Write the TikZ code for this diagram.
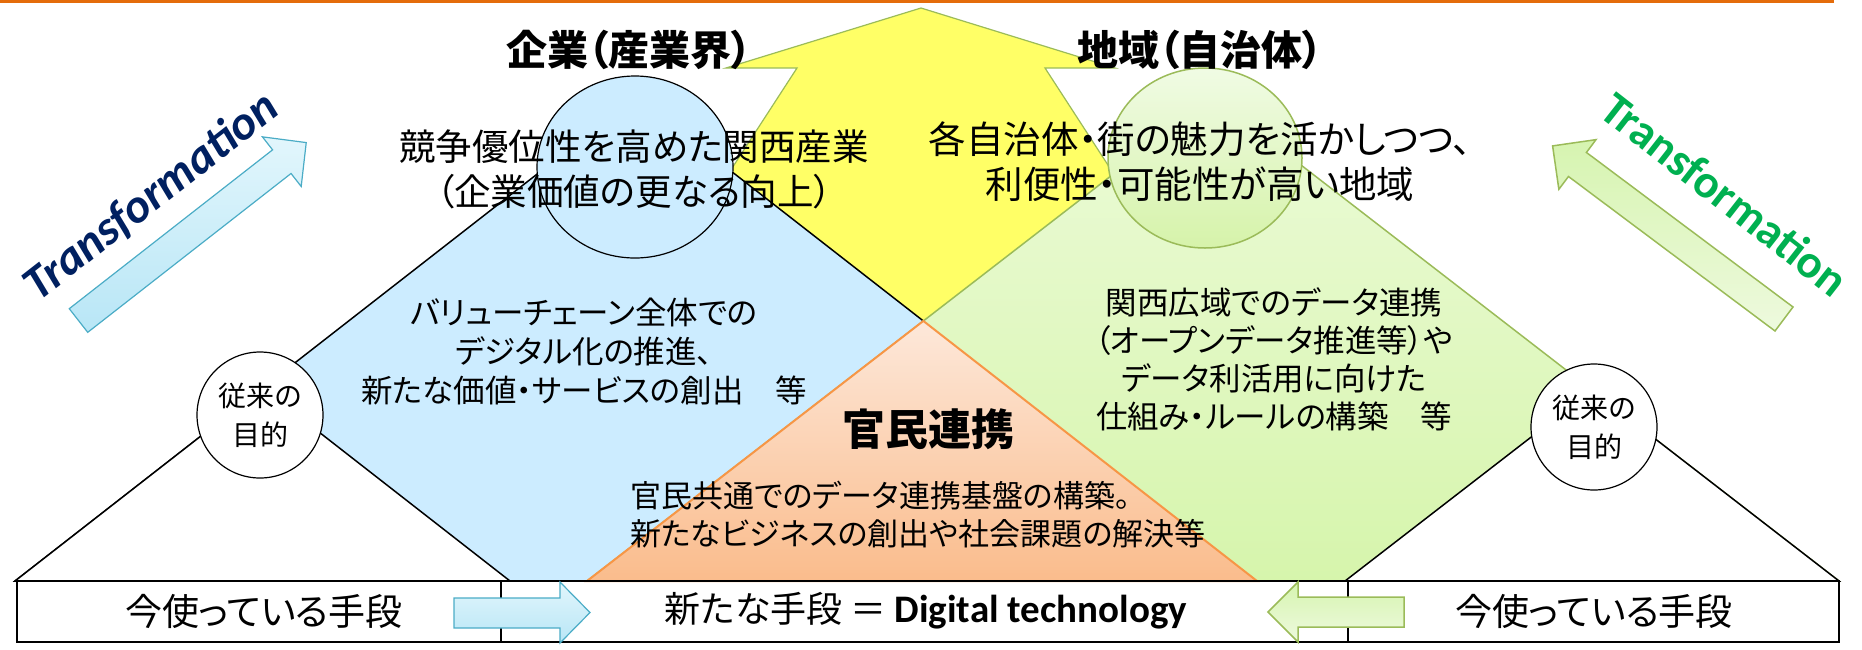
\documentclass[tikz,border=0pt]{standalone}
\usepackage{fontspec}
\setmainfont{Noto Sans CJK JP}[RawFeature=+palt]
\newfontfamily\calfont{Carlito}
\usetikzlibrary{calc,intersections,shapes.geometric}
\definecolor{bluefill}{HTML}{CCECFF}
\definecolor{yellowfill}{HTML}{FFFF66}
\definecolor{greenedge}{HTML}{9BBB59}
\definecolor{orangeedge}{HTML}{F79646}
\definecolor{topline}{HTML}{E46C0A}
\definecolor{navytext}{HTML}{002060}
\definecolor{greentext}{HTML}{00B050}
\definecolor{cyanedge}{HTML}{4BACC6}
\begin{document}
\begin{tikzpicture}[x=1pt,y=-1pt,line join=miter,
  jp/.style={inner sep=0pt,align=center},
  bluetri/.style={fill=bluefill,draw=black,line width=1.5pt},
  greentri/.style={top color={rgb,255:red,236;green,251;blue,216}, bottom color={rgb,255:red,214;green,245;blue,172},draw=greenedge,line width=1.5pt},
  orangetri/.style={top color={rgb,255:red,253;green,232;blue,218},bottom color={rgb,255:red,250;green,188;blue,140},draw=orangeedge,line width=2pt},
  whitetri/.style={fill=white,draw=black,line width=1.5pt},
  smallcirc/.style={circle,draw=black,fill=white,line width=1.2pt,minimum size=126pt,inner sep=0pt,align=center,font=\fontsize{28}{39}\selectfont},
  bluearrow/.style={top color={rgb,255:red,226;green,246;blue,252},bottom color={rgb,255:red,184;green,230;blue,246},draw=cyanedge,line width=1.2pt},
  greenarrow/.style={top color={rgb,255:red,214;green,244;blue,176},bottom color={rgb,255:red,238;green,250;blue,222},draw=greenedge,line width=1.5pt},
  cellline/.style={draw=black,line width=1.5pt}]
\useasboundingbox (0,0) rectangle (1862,649);
% top rule
\draw[topline,line width=3pt] (0,1.5) -- (1834,1.5);
% yellow arrow
\draw[fill=yellowfill,draw=greenedge,line width=1.2pt] (921,8) -- (1115,68) -- (1045,68) -- (1215,330) -- (627,330) -- (797,68) -- (726,68) -- cycle;
% geometry
\coordinate (B1) at (15,581); \coordinate (B2) at (1257,581); \coordinate (BA) at (636,97);
\coordinate (G1) at (587,581); \coordinate (G2) at (1839,581); \coordinate (GA) at (1213,97);
\coordinate (X) at (intersection of B2--BA and G1--GA);
% big triangles
\draw[bluetri] (B1) -- (BA) -- (B2) -- cycle;
\draw[greentri] (G1) -- (GA) -- (G2) -- cycle;
\draw[orangetri] (X) -- (G1) -- (B2) -- cycle;
% white triangles
\draw[whitetri] (15,581) -- (262.5,388) -- (510,581) -- cycle;
\draw[whitetri] (1345,581) -- (1592,390) -- (1839,581) -- cycle;
% ellipses
\node[ellipse,minimum width=196pt,minimum height=182pt,fill=bluefill,draw=black,line width=1.2pt] (e1) at (635,167) {};
\node[ellipse,minimum width=194pt,minimum height=180pt,top color={rgb,255:red,240;green,251;blue,228},bottom color={rgb,255:red,214;green,243;blue,170},draw=greenedge,line width=1.5pt] (e2) at (1205,158) {};
% small circles
\node[smallcirc] (c1) at (260,415) {従来の\\目的};
\node[smallcirc] (c2) at (1594,427) {従来の\\目的};
% titles
\node[jp,font=\fontsize{41}{41}\selectfont\bfseries] (t1) at (629,50) {企業（産業界）};
\node[jp,font=\fontsize{41}{41}\selectfont\bfseries] (t2) at (1200,50) {地域（自治体）};
% top texts
\node[jp,font=\fontsize{36.5}{45}\selectfont] (g1) at (634,169.5) {競争優位性を高めた関西産業\\（企業価値の更なる向上）};
\node[jp,font=\fontsize{37.5}{45}\selectfont] (g2) at (1200,161.5) {各自治体・街の魅力を活かしつつ、\\利便性・可能性が高い地域};
% middle texts
\node[jp,font=\fontsize{31.5}{39}\selectfont] (m1) at (584,352) {バリューチェーン全体での\\デジタル化の推進、\\新たな価値・サービスの創出　等};
\node[jp,font=\fontsize{31.5}{38}\selectfont] (m2) at (1274,359) {関西広域でのデータ連携\\（オープンデータ推進等）や\\データ利活用に向けた\\仕組み・ルールの構築　等};
\node[jp,font=\fontsize{43}{43}\selectfont\bfseries] (m3) at (928,429) {官民連携};
\node[jp,font=\fontsize{31}{38}\selectfont,align=left,anchor=west] (m4) at (630,515) {官民共通でのデータ連携基盤の構築。\\新たなビジネスの創出や社会課題の解決等};
% Transformation labels
\node[rotate=38,inner sep=0pt,text=navytext,font=\calfont\bfseries\itshape\fontsize{48}{48}\selectfont] (tr1) at (151,197) {Transformation};
\node[rotate=-38,inner sep=0pt,text=greentext,font=\calfont\bfseries\fontsize{47}{47}\selectfont] (tr2) at (1725,194) {Transformation};
% diagonal arrows
\begin{scope}[shift={(78.5,320.5)},rotate=38]
\draw[bluearrow] (0,-15) -- (258,-15) -- (258,-31.5) -- (289,0) -- (258,31.5) -- (258,15) -- (0,15) -- cycle;
\end{scope}
\begin{scope}[shift={(1784,319)},rotate=143.2]
\draw[greenarrow] (0,-15) -- (258,-15) -- (258,-31) -- (289,0) -- (258,31) -- (258,15) -- (0,15) -- cycle;
\end{scope}
% bottom box
\draw[cellline,line width=2.5pt] (17,581) rectangle (1839,642);
\draw[cellline] (501,581) -- (501,642);
\draw[cellline] (1348,581) -- (1348,642);
\node[jp,font=\fontsize{37}{37}\selectfont] (b1) at (264,611) {今使っている手段};
\node[jp,font=\fontsize{36}{36}\selectfont] (b2) at (926,611) {新たな手段 ＝ {\calfont\bfseries\fontsize{39}{39}\selectfont Digital technology}};
\node[jp,font=\fontsize{37}{37}\selectfont] (b3) at (1594,611) {今使っている手段};
% box arrows
\draw[bluearrow] (454,598) -- (560,598) -- (560,582) -- (590,612.5) -- (560,643) -- (560,628) -- (454,628) -- cycle;
\draw[greenarrow] (1404,597) -- (1298,597) -- (1298,582) -- (1268,612) -- (1298,642) -- (1298,627) -- (1404,627) -- cycle;
\end{tikzpicture}
\end{document}
